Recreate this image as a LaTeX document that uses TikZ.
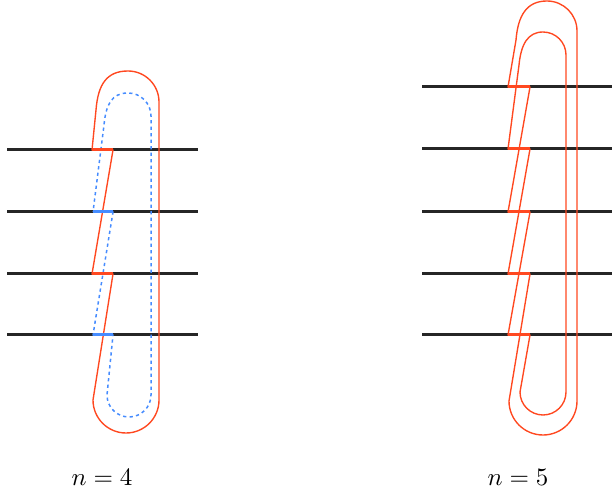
\documentclass[tikz,border=0pt]{standalone}
\definecolor{strandred}{RGB}{255,72,32}
\definecolor{strandblue}{RGB}{70,140,255}
\begin{document}
\begin{tikzpicture}[x=0.4pt,y=-0.4pt,
  wire/.style={line width=1.2pt,black!85},
  strand/.style={line width=0.55pt,strandred,line join=round},
  dotted strand/.style={line width=0.6pt,strandblue,dash pattern=on 1.3pt off 1.3pt,line join=round},
  jump/.style={line width=1.2pt}]
\useasboundingbox (0,0) rectangle (612,491);
% horizontal lines
\foreach \y in {150,212,274,335}{
  \draw[wire] (7,\y) -- (198,\y);
}
\foreach \y in {87,149,212,274,335}{
  \draw[wire] (422,\y) -- (612,\y);
}
% n = 4
\draw[dotted strand] (93,212) -- (113,212) -- (93,335) -- (113,335) -- (107,395)
  arc (180:0:22) -- (151,116) arc (0:-90:23)
  .. controls (112,93) and (106,104) .. (104,125) -- cycle;
\draw[strand] (92,150) -- (113,150) -- (92,274) -- (113,274) -- (93,400)
  arc (180:0:33) -- (159,102) arc (0:-90:31)
  .. controls (107,71) and (98,84) .. (96,110) -- cycle;
\foreach \y in {150,274}{
  \draw[jump,strandred] (92,\y) -- (113,\y);
}
\foreach \y in {212,335}{
  \draw[jump,strandblue] (93,\y) -- (113,\y);
}
\node (lab4) at (102,477) {$n=4$};
% n = 5
\draw[strand] (508,87) -- (530,87) -- (508,212) -- (530,212) -- (508,335) -- (530,335) -- (520,392)
  arc (180:0:23) -- (566,55) arc (0:-90:23)
  .. controls (528,32) and (521,44) .. (519,65)
  -- (508,149) -- (530,149) -- (508,274) -- (530,274) -- (509,401)
  arc (180:0:34) -- (577,31) arc (0:-90:30)
  .. controls (527,1) and (518,15) .. (516,40) -- cycle;
\foreach \y in {87,149,212,274,335}{
  \draw[jump,strandred] (508,\y) -- (530,\y);
}
\node (lab5) at (518,477) {$n=5$};
\end{tikzpicture}
\end{document}
